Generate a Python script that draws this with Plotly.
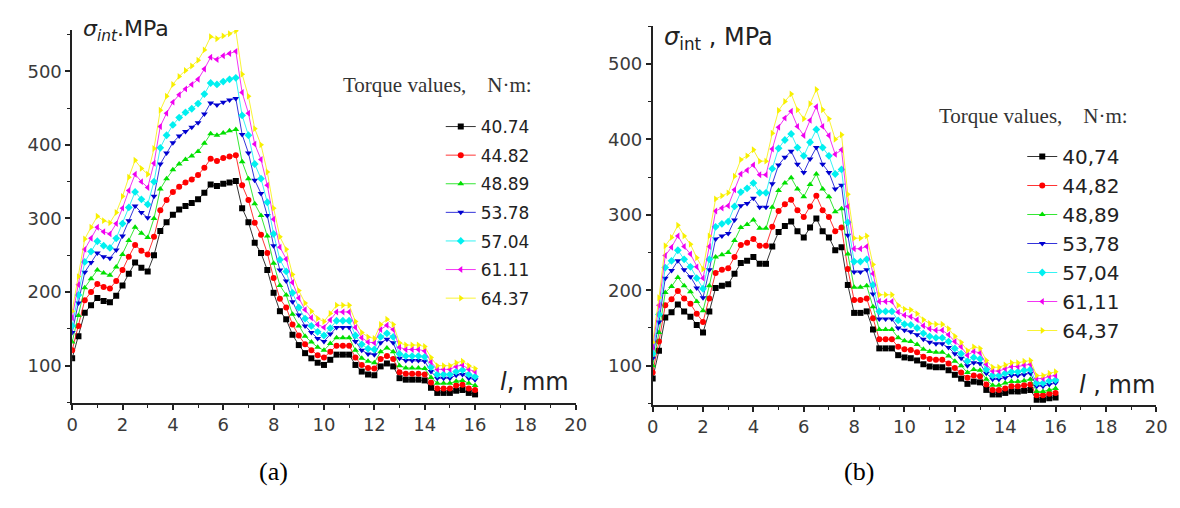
import plotly.graph_objects as go

W, H = 1180, 508

# ---------------- data ----------------
x_mm = [0, 0.25, 0.5, 0.75, 1, 1.25, 1.5, 1.75, 2, 2.25, 2.5, 2.75, 3, 3.25, 3.5, 3.75,
        4, 4.25, 4.5, 4.75, 5, 5.25, 5.5, 5.75, 6, 6.25, 6.5, 6.75, 7, 7.25, 7.5, 7.75,
        8, 8.25, 8.5, 8.75, 9, 9.25, 9.5, 9.75, 10, 10.25, 10.5, 10.75, 11, 11.25, 11.5, 11.75,
        12, 12.25, 12.5, 12.75, 13, 13.25, 13.5, 13.75, 14, 14.25, 14.5, 14.75, 15, 15.25, 15.5, 15.75, 16]

labels_a = ["40.74", "44.82", "48.89", "53.78", "57.04", "61.11", "64.37"]
labels_b = ["40,74", "44,82", "48,89", "53,78", "57,04", "61,11", "64,37"]

# panel (a)
a_4074 = [110,140,172,182,192,188,186,195,209,225,240,233,228,250,283,295,305,312,317,321,326,335,346,344,347,349,351,
          314,295,267,253,230,199,174,163,142,128,117,110,104,101,108,115,115,115,101,92,88,87,99,103,99,83,81,81,81,80,70,63,63,63,66,67,63,61]
a_4482 = [121,154,189,200,211,207,205,215,230,248,264,256,251,275,311,325,336,343,349,353,359,369,381,378,382,384,386,
          345,325,294,278,253,219,191,179,156,141,129,121,114,111,119,127,127,127,111,101,97,96,109,113,109,91,89,89,89,88,77,69,69,69,73,74,69,67]
a_4889 = [132,168,206,218,230,226,223,234,251,270,288,280,274,300,340,354,366,374,380,385,391,402,415,413,416,419,421,
          377,354,320,304,276,239,209,196,170,154,140,132,125,121,130,138,138,138,121,110,106,104,119,124,119,100,97,97,97,96,84,76,76,76,79,80,76,73]
a_5378 = [145,185,227,240,253,248,246,257,276,297,317,308,301,330,374,389,403,412,418,424,430,442,457,454,458,461,463,
          414,389,352,334,304,263,230,215,187,169,154,145,137,133,143,152,152,152,133,121,116,115,131,136,131,110,107,107,107,106,92,83,83,83,87,88,83,81]
a_5704 = [154,196,241,255,269,263,260,273,293,315,336,326,319,350,396,413,427,437,444,449,456,469,484,482,486,489,491,
          440,413,374,354,322,279,244,228,199,179,164,154,146,141,151,161,161,161,141,129,123,122,139,144,139,116,113,113,113,112,98,88,88,88,92,94,88,85]
a_6111 = [165,210,258,273,288,282,279,293,314,338,360,350,342,375,425,443,458,468,476,482,489,503,519,516,521,524,527,
          471,443,401,380,345,299,261,245,213,192,176,165,156,152,162,173,173,173,152,138,132,131,149,155,149,125,122,122,122,120,105,95,95,95,99,101,95,92]
a_6437 = [174,221,272,288,303,297,294,308,330,356,379,368,360,395,447,466,482,493,501,507,515,529,547,544,548,551,555,
          496,466,422,400,363,314,275,258,224,202,185,174,164,160,171,182,182,182,160,145,139,137,156,163,156,131,128,128,128,126,111,100,100,100,104,106,100,96]

# panel (b)
b_4074 = [83,120,164,171,181,172,165,154,144,172,203,206,208,222,236,239,244,235,235,258,277,285,291,278,270,283,295,
          278,270,253,257,207,170,170,172,148,123,123,123,114,111,110,107,102,99,98,98,94,88,83,76,79,78,68,62,62,64,66,66,67,68,55,55,57,58]
b_4482 = [91,132,180,188,199,189,182,169,158,189,223,227,229,244,260,263,268,259,259,284,305,314,320,306,297,311,325,
          306,297,278,283,228,187,187,189,163,135,135,135,125,122,121,118,112,109,108,108,103,97,91,84,87,86,75,68,68,70,73,73,74,75,61,61,63,64]
b_4889 = [100,144,197,205,217,206,198,185,173,206,244,247,250,266,283,287,293,282,282,310,332,342,349,334,324,340,354,
          334,324,304,308,248,204,204,206,178,148,148,148,137,133,132,128,122,119,118,118,113,106,100,91,95,94,82,74,74,77,79,79,80,82,66,66,68,70]
b_5378 = [110,158,216,226,239,227,218,203,190,227,268,272,275,293,312,315,322,310,310,341,366,376,384,367,356,374,389,
          367,356,334,339,273,224,224,227,195,162,162,162,150,147,145,141,135,131,129,129,124,116,110,100,104,103,90,82,82,84,87,87,88,90,73,73,75,77]
b_5704 = [116,168,230,239,253,241,231,216,202,241,284,288,291,311,330,335,342,329,329,361,388,399,407,389,378,396,413,
          389,378,354,360,290,238,238,241,207,172,172,172,160,155,154,150,143,139,137,137,132,123,116,106,111,109,95,87,87,90,92,92,94,95,77,77,80,81]
b_6111 = [125,180,246,257,272,258,248,231,216,258,305,309,312,333,354,359,366,353,353,387,416,428,437,417,405,425,443,
          417,405,380,386,311,255,255,258,222,185,185,185,171,167,165,161,153,149,147,147,141,132,125,114,119,117,102,93,93,96,99,99,101,102,83,83,86,87]
b_6437 = [131,190,259,270,286,272,261,243,228,272,321,325,329,351,373,378,386,371,371,408,438,450,460,439,427,447,466,
          439,427,400,406,327,269,269,272,234,194,194,194,180,175,174,169,161,156,155,155,149,139,131,120,125,123,107,98,98,101,104,104,106,107,87,87,90,92]

series_a = [a_4074, a_4482, a_4889, a_5378, a_5704, a_6111, a_6437]
series_b = [b_4074, b_4482, b_4889, b_5378, b_5704, b_6111, b_6437]

colors = ["#000000", "#ff0000", "#00e000", "#0000d0", "#00f0f0", "#f000f0", "#f8f000"]
symbols = ["square", "circle", "triangle-up", "triangle-down", "diamond", "triangle-left", "triangle-right"]

# ---------------- figure ----------------
fig = go.Figure()

for i in range(7):
    fig.add_trace(go.Scatter(
        x=x_mm, y=series_a[i], mode="lines+markers", name=labels_a[i],
        line=dict(color=colors[i], width=0.8),
        marker=dict(symbol=symbols[i], size=6, color=colors[i], line=dict(width=0)),
        xaxis="x", yaxis="y", legend="legend", legendgroup="a%d" % i))
for i in range(7):
    fig.add_trace(go.Scatter(
        x=x_mm, y=series_b[i], mode="lines+markers", name=labels_b[i],
        line=dict(color=colors[i], width=0.8),
        marker=dict(symbol=symbols[i], size=6, color=colors[i], line=dict(width=0)),
        xaxis="x2", yaxis="y2", legend="legend2", legendgroup="b%d" % i))

axcol = "#222222"
tickfont = dict(family="DejaVu Sans", size=18, color="#3a3a3a")

def xax(domain, anchor):
    return dict(domain=domain, anchor=anchor, range=[0, 20], tick0=0, dtick=2,
                showline=True, linecolor=axcol, linewidth=1.5, ticks="outside",
                ticklen=5, tickwidth=1.5, tickcolor=axcol, showgrid=False, zeroline=False,
                tickfont=tickfont,
                minor=dict(dtick=1, tick0=0, ticks="outside", ticklen=3, tickwidth=1.2, tickcolor=axcol))

def yax(domain, anchor, rng):
    return dict(domain=domain, anchor=anchor, range=rng, tick0=0, dtick=100,
                showline=True, linecolor=axcol, linewidth=1.5, ticks="outside",
                ticklen=5, tickwidth=1.5, tickcolor=axcol, showgrid=False, zeroline=False,
                tickfont=tickfont,
                minor=dict(dtick=50, tick0=0, ticks="outside", ticklen=3, tickwidth=1.2, tickcolor=axcol))

def px(xp):
    return xp / W

def py(yp):
    return 1 - yp / H

annotations = [
    dict(text="<i>σ</i><sub><i>int</i></sub>.MPa", x=px(68), y=py(22), xanchor="left", yanchor="middle",
         font=dict(family="DejaVu Sans", size=22, color="#222"), showarrow=False, xref="paper", yref="paper"),
    dict(text="<i>σ</i><sub>int</sub> , MPa", x=px(657), y=py(30), xanchor="left", yanchor="middle",
         font=dict(family="DejaVu Sans", size=24, color="#222"), showarrow=False, xref="paper", yref="paper"),
    dict(text="<i>l</i>, mm", x=px(565), y=py(374), xanchor="right", yanchor="middle",
         font=dict(family="DejaVu Sans", size=24, color="#222"), showarrow=False, xref="paper", yref="paper"),
    dict(text="<i>l</i> , mm", x=px(1160), y=py(377), xanchor="right", yanchor="middle",
         font=dict(family="DejaVu Sans", size=24, color="#222"), showarrow=False, xref="paper", yref="paper"),
    dict(text="Torque values,&nbsp;&nbsp;&nbsp;&nbsp;N·m:", x=px(430), y=py(77), xanchor="center", yanchor="middle",
         font=dict(family="Liberation Serif", size=21, color="#333"), showarrow=False, xref="paper", yref="paper"),
    dict(text="Torque values,&nbsp;&nbsp;&nbsp;&nbsp;N·m:", x=px(1034), y=py(108), xanchor="center", yanchor="middle",
         font=dict(family="Liberation Serif", size=21, color="#333"), showarrow=False, xref="paper", yref="paper"),
    dict(text="(a)", x=px(263), y=py(463), xanchor="center", yanchor="middle",
         font=dict(family="Liberation Serif", size=26, color="#000"), showarrow=False, xref="paper", yref="paper"),
    dict(text="(b)", x=px(857), y=py(463), xanchor="center", yanchor="middle",
         font=dict(family="Liberation Serif", size=26, color="#000"), showarrow=False, xref="paper", yref="paper"),
]

fig.update_layout(
    width=W, height=H,
    margin=dict(l=0, r=0, t=0, b=0),
    paper_bgcolor="white", plot_bgcolor="white",
    xaxis=xax([px(59), px(570)], "y"),
    yaxis=yax([py(395), py(22)], "x", [49.3, 556]),
    xaxis2=xax([px(648), px(1159)], "y2"),
    yaxis2=yax([py(397), py(18)], "x2", [48, 550]),
    legend=dict(x=px(433), y=py(101), xanchor="left", yanchor="top", bgcolor="rgba(0,0,0,0)",
                font=dict(family="DejaVu Sans", size=17, color="#222"), tracegroupgap=3.5,
                traceorder="grouped"),
    legend2=dict(x=px(1023), y=py(129), xanchor="left", yanchor="top", bgcolor="rgba(0,0,0,0)",
                 font=dict(family="DejaVu Sans", size=20, color="#222"), tracegroupgap=0,
                 traceorder="grouped"),
    showlegend=True,
    annotations=annotations,
)

fig.write_html("out.html")
